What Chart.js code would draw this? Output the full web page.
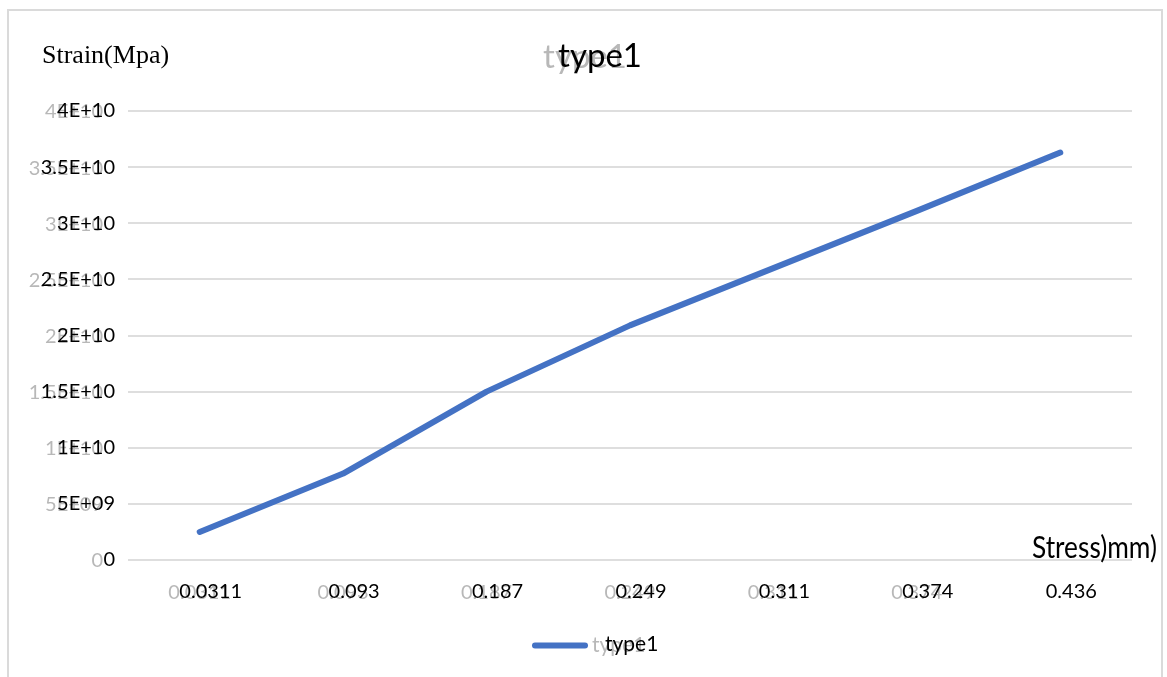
<!DOCTYPE html>
<html>
<head>
<meta charset="utf-8">
<title>type1</title>
<script src="https://cdn.jsdelivr.net/npm/chart.js@4.4.1/dist/chart.umd.min.js"></script>
<style>
  html, body { margin: 0; padding: 0; background: #ffffff; }
  #wrap { width: 1167px; height: 677px; position: relative; }
</style>
</head>
<body>
<div id="wrap"><canvas id="chart" width="1167" height="677"></canvas></div>
<script>
// Displacement categories along the horizontal axis
const categories = ['0.0311', '0.093', '0.187', '0.249', '0.311', '0.374', '0.436'];
// Series values for type1
const type1Values = [2.5e9, 7.7e9, 1.5e10, 2.09e10, 2.6e10, 3.11e10, 3.63e10];
// Vertical axis tick labels, bottom to top
const yTickLabels = ['0', '5E+09', '1E+10', '1.5E+10', '2E+10', '2.5E+10', '3E+10', '3.5E+10', '4E+10'];

const seriesName = 'type1';
const chartTitle = 'type1';
const yAxisTitle = 'Strain(Mpa)';
const xAxisTitle = 'Stress)mm)';

const BLUE = '#4472C4';
const GRID = '#dedede';
const FONT = 'Lato, "Open Sans", sans-serif';

// Soft grey echo that sits behind a label
function echo(ctx, text, x, y, font, align, baseline) {
  ctx.save();
  ctx.font = font;
  ctx.fillStyle = '#b8b8b8';
  ctx.textAlign = align;
  ctx.textBaseline = baseline;
  ctx.filter = 'blur(0.7px)';
  ctx.fillText(text, x, y);
  ctx.restore();
}

const decor = {
  id: 'decor',
  beforeDraw(chart) {
    const ctx = chart.ctx;
    const W = chart.width, H = chart.height;
    ctx.save();
    ctx.fillStyle = '#ffffff';
    ctx.fillRect(0, 0, W, H);

    // frame
    ctx.strokeStyle = '#dadada';
    ctx.lineWidth = 2;
    ctx.beginPath();
    ctx.moveTo(8, H);
    ctx.lineTo(8, 10);
    ctx.lineTo(1162, 10);
    ctx.lineTo(1162, H);
    ctx.stroke();
    ctx.restore();

    // grey echoes of tick labels
    const ys = chart.scales.y;
    const xs = chart.scales.x;
    const tickFont = '20px ' + FONT;
    ys.ticks.forEach((t, i) => {
      const py = ys.getPixelForTick(i);
      echo(ctx, yTickLabels[i], 115 - 12, py + 1, tickFont, 'right', 'middle');
    });
    xs.ticks.forEach((t, i) => {
      if (i === categories.length - 1) return;
      const px = xs.getPixelForTick(i);
      echo(ctx, categories[i], px, 599, tickFont, 'center', 'alphabetic');
    });
    echo(ctx, chartTitle, 600 - 15, 68, '33px ' + FONT, 'center', 'alphabetic');
    echo(ctx, seriesName, 605 - 13, 652, '21px ' + FONT, 'left', 'alphabetic');
  },
  afterDraw(chart) {
    const ctx = chart.ctx;
    ctx.save();
    // title
    ctx.fillStyle = '#000000';
    ctx.font = '33px ' + FONT;
    ctx.textAlign = 'center';
    ctx.textBaseline = 'alphabetic';
    ctx.fillText(chartTitle, 600, 67);

    // vertical axis title
    ctx.font = '26px "Liberation Serif", "Times New Roman", serif';
    ctx.textAlign = 'left';
    ctx.fillText(yAxisTitle, 42, 63);

    // horizontal axis title, in a condensed setting
    ctx.font = '31px ' + FONT;
    ctx.textAlign = 'left';
    const w = ctx.measureText(xAxisTitle).width;
    const sx = 125 / w;
    ctx.save();
    ctx.translate(1032, 558);
    ctx.scale(sx, 1);
    ctx.fillText(xAxisTitle, 0, 0);
    ctx.restore();

    // legend
    const ds = chart.data.datasets[0];
    ctx.strokeStyle = ds.borderColor;
    ctx.lineWidth = 6;
    ctx.lineCap = 'round';
    ctx.beginPath();
    ctx.moveTo(535, 645.5);
    ctx.lineTo(585, 645.5);
    ctx.stroke();
    ctx.fillStyle = '#000000';
    ctx.font = '21px ' + FONT;
    ctx.textAlign = 'left';
    ctx.fillText(ds.label, 605, 651);
    ctx.restore();
  }
};

new Chart(document.getElementById('chart'), {
  type: 'line',
  data: {
    labels: categories,
    datasets: [{
      label: seriesName,
      data: type1Values,
      borderColor: BLUE,
      backgroundColor: BLUE,
      borderWidth: 6,
      borderCapStyle: 'round',
      borderJoinStyle: 'round',
      pointRadius: 0,
      tension: 0,
      fill: false
    }]
  },
  options: {
    responsive: false,
    animation: false,
    layout: { padding: { top: 111, right: 35, left: 0, bottom: 0 } },
    plugins: {
      legend: { display: false },
      title: { display: false },
      tooltip: { enabled: false }
    },
    scales: {
      x: {
        type: 'category',
        offset: true,
        afterFit(s) { s.height = 117; },
        grid: { display: false, drawTicks: false },
        border: { display: false },
        ticks: {
          color: '#000000',
          font: { family: FONT, size: 20 },
          padding: 20,
          labelOffset: 11,
          maxRotation: 0,
          autoSkip: false
        }
      },
      y: {
        min: 0,
        max: 4e10,
        afterFit(s) { s.width = 128; },
        afterBuildTicks(s) {
          s.ticks = yTickLabels.map((_, i) => ({ value: i * 5e9 }));
        },
        grid: { color: GRID, lineWidth: 2, drawTicks: false },
        border: { display: false },
        ticks: {
          color: '#000000',
          font: { family: FONT, size: 20 },
          padding: 13,
          callback: (v, i) => yTickLabels[i]
        }
      }
    }
  },
  plugins: [decor]
});
</script>
</body>
</html>
